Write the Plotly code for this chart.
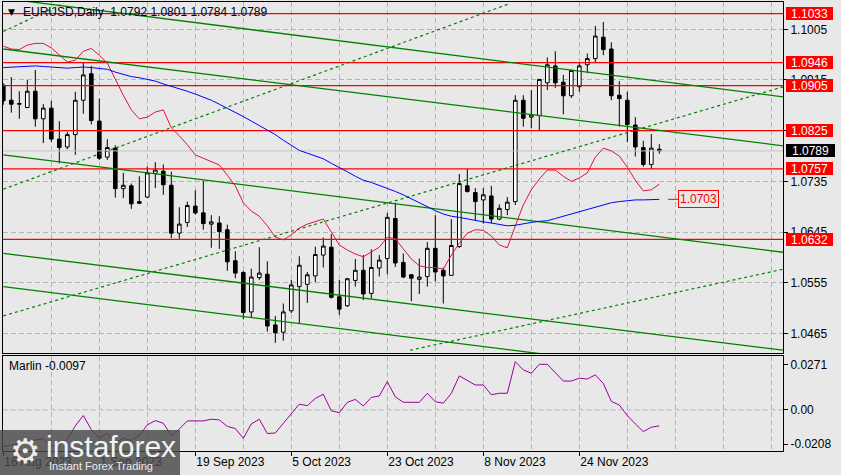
import plotly.graph_objects as go

# ---------------- data ----------------
bars = list(range(83))
opens = [1.0906,1.0879,1.0872,1.0866,1.0895,1.0846,1.0865,1.0810,1.0796,1.0818,
         1.0879,1.0926,1.0842,1.0778,1.0794,1.0722,1.0727,1.0699,1.0707,1.0749,
         1.0753,1.0728,1.0643,1.0662,1.0691,1.0679,1.0659,1.0661,1.0649,1.0594,
         1.0573,1.0503,1.0564,1.0570,1.0480,1.0467,1.0505,1.0548,1.0552,1.0567,
         1.0604,1.0618,1.0530,1.0514,1.0559,1.0577,1.0536,1.0581,1.0598,1.0669,
         1.0591,1.0569,1.0561,1.0566,1.0616,1.0577,1.0568,1.0619,1.0727,1.0715,
         1.0702,1.0709,1.0668,1.0685,1.0699,1.0879,1.0849,1.0852,1.0910,1.0940,
         1.0911,1.0887,1.0903,1.0942,1.0953,1.0991,1.0970,1.0888,1.0879,1.0835,
         1.0795,1.0765,1.0792]
highs = [1.0909,1.0920,1.0895,1.0915,1.0933,1.0872,1.0878,1.0842,1.0823,1.0894,
         1.0946,1.0940,1.0882,1.0810,1.0799,1.0750,1.0731,1.0744,1.0761,1.0769,
         1.0765,1.0752,1.0689,1.0699,1.0719,1.0736,1.0675,1.0673,1.0658,1.0611,
         1.0576,1.0580,1.0618,1.0593,1.0496,1.0518,1.0560,1.0602,1.0574,1.0619,
         1.0635,1.0641,1.0560,1.0563,1.0597,1.0604,1.0614,1.0604,1.0679,1.0697,
         1.0607,1.0570,1.0598,1.0627,1.0675,1.0582,1.0668,1.0748,1.0757,1.0723,
         1.0723,1.0727,1.0694,1.0707,1.0888,1.0888,1.0897,1.0917,1.0955,1.0966,
         1.0924,1.0933,1.0946,1.0962,1.1011,1.1018,1.0982,1.0913,1.0894,1.0849,
         1.0807,1.0819,1.0801]
lows = [1.0871,1.0857,1.0846,1.0865,1.0832,1.0803,1.0805,1.0767,1.0792,1.0782,
        1.0855,1.0836,1.0773,1.0773,1.0706,1.0705,1.0686,1.0695,1.0706,1.0723,
        1.0711,1.0634,1.0633,1.0654,1.0676,1.0649,1.0617,1.0615,1.0576,1.0563,
        1.0490,1.0493,1.0560,1.0468,1.0448,1.0452,1.0501,1.0483,1.0519,1.0556,
        1.0582,1.0527,1.0498,1.0512,1.0548,1.0524,1.0527,1.0566,1.0570,1.0583,
        1.0563,1.0522,1.0535,1.0548,1.0557,1.0518,1.0568,1.0617,1.0715,1.0666,
        1.0660,1.0660,1.0666,1.0675,1.0693,1.0832,1.0829,1.0826,1.0897,1.0901,
        1.0854,1.0883,1.0894,1.0927,1.0945,1.0959,1.0879,1.0832,1.0805,1.0779,
        1.0761,1.0757,1.0784]
closes = [1.0878,1.0872,1.0873,1.0895,1.0846,1.0865,1.0810,1.0795,1.0818,1.0879,
          1.0924,1.0843,1.0776,1.0795,1.0722,1.0728,1.0695,1.0696,1.0750,1.0755,
          1.0729,1.0643,1.0659,1.0692,1.0679,1.0660,1.0663,1.0646,1.0592,1.0572,
          1.0502,1.0565,1.0572,1.0478,1.0466,1.0503,1.0551,1.0586,1.0569,1.0605,
          1.0620,1.0529,1.0508,1.0562,1.0577,1.0535,1.0582,1.0595,1.0671,1.0590,
          1.0565,1.0563,1.0565,1.0616,1.0574,1.0567,1.0621,1.0731,1.0717,1.0699,
          1.0711,1.0668,1.0687,1.0698,1.0879,1.0847,1.0853,1.0916,1.0942,1.0910,
          1.0887,1.0932,1.0940,1.0953,1.0993,1.0969,1.0887,1.0882,1.0836,1.0796,
          1.0765,1.0794,1.0789]
red_ma = [1.0975,1.0970,1.0969,1.0977,1.0980,1.0980,1.0972,1.0959,1.0947,1.0950,
          1.0966,1.0971,1.0959,1.0945,1.0915,1.0888,1.0862,1.0846,1.0849,1.0858,
          1.0862,1.0830,1.0816,1.0800,1.0782,1.0776,1.0771,1.0764,1.0746,1.0727,
          1.0697,1.0682,1.0673,1.0656,1.0636,1.0631,1.0640,1.0652,1.0659,1.0663,
          1.0668,1.0645,1.0622,1.0613,1.0606,1.0601,1.0609,1.0618,1.0636,1.0633,
          1.0615,1.0597,1.0585,1.0582,1.0582,1.0579,1.0604,1.0625,1.0643,1.0649,
          1.0648,1.0638,1.0622,1.0617,1.0656,1.0693,1.0720,1.0739,1.0755,1.0755,
          1.0744,1.0735,1.0741,1.0750,1.0778,1.0794,1.0789,1.0780,1.0760,1.0737,
          1.0718,1.0720,1.0730]
blue_ma = [1.0937,1.0938,1.0938,1.0939,1.0940,1.0939,1.0938,1.0937,1.0936,1.0937,
           1.0938,1.0937,1.0936,1.0934,1.0929,1.0925,1.0921,1.0919,1.0916,1.0913,
           1.0908,1.0904,1.0899,1.0895,1.0890,1.0885,1.0879,1.0872,1.0865,1.0858,
           1.0850,1.0842,1.0834,1.0827,1.0818,1.0808,1.0799,1.0790,1.0785,1.0780,
           1.0775,1.0767,1.0760,1.0752,1.0744,1.0737,1.0733,1.0728,1.0722,1.0717,
           1.0711,1.0704,1.0697,1.0689,1.0683,1.0677,1.0673,1.0671,1.0668,1.0665,
           1.0663,1.0661,1.0658,1.0656,1.0657,1.0660,1.0662,1.0664,1.0665,1.0669,
           1.0673,1.0677,1.0681,1.0685,1.0690,1.0694,1.0697,1.0699,1.0701,1.0702,
           1.0702,1.0703,1.0703]
marlin = [-0.0223,-0.0212,-0.0202,-0.0191,-0.0182,-0.0176,-0.0221,-0.0209,-0.0179,-0.0097,
          -0.0035,-0.0119,-0.0170,-0.0143,-0.0200,-0.0172,-0.0185,-0.0155,-0.0091,-0.0065,
          -0.0081,-0.0155,-0.0116,-0.0067,-0.0067,-0.0067,-0.0057,-0.0061,-0.0100,-0.0113,
          -0.0172,-0.0085,-0.0057,-0.0143,-0.0140,-0.0081,-0.0019,0.0034,0.0025,0.0069,
          0.0094,-0.0006,-0.0017,0.0045,0.0063,0.0023,0.0075,0.0084,0.0170,0.0078,
          0.0046,0.0045,0.0045,0.0100,0.0049,0.0040,0.0099,0.0205,0.0179,0.0150,
          0.0150,0.0091,0.0100,0.0100,0.0291,0.0241,0.0221,0.0275,0.0275,0.0225,
          0.0174,0.0174,0.0191,0.0186,0.0211,0.0159,0.0051,0.0029,-0.0035,-0.0085,
          -0.0132,-0.0105,-0.0097]

# horizontal support / resistance levels
levels = [1.1033, 1.0946, 1.0905, 1.0825, 1.0757, 1.0632]
last_price = 1.0789

# channel lines: (bar0, price0, bar1, price1)
solid_lines = [(0, 1.1060, 97.5, 1.0885),
               (0, 1.0970, 97.5, 1.0798),
               (0, 1.0782, 97.5, 1.0609),
               (0, 1.0607, 97.5, 1.0435),
               (0, 1.0548, 97.5, 1.0375)]
dotted_lines = [(0, 1.1001, 7.5, 1.1051),
                (0, 1.0721, 63.34, 1.1051),
                (0, 1.0496, 97.5, 1.0903),
                (50.84, 1.0435, 97.5, 1.0579)]

price_ticks = [1.1005, 1.0915, 1.0825, 1.0735, 1.0645, 1.0555, 1.0465]
date_ticks = [0, 12, 24, 36, 48, 60, 72]
date_labels = ["16 Aug 2023", "1 Sep 2023", "19 Sep 2023", "5 Oct 2023",
               "23 Oct 2023", "8 Nov 2023", "24 Nov 2023"]
marlin_ticks = [0.0271, 0.0, -0.0208]
marlin_labels = ["0.0271", "0.00", "-0.0208"]

# ---------------- layout helpers ----------------
W, H = 841, 475
BG = "#E8E8E8"
FONT = "Liberation Sans, Arial, sans-serif"
XR = [-0.1, 97.46]
YR = [1.04301, 1.10535]
Y2R = [-0.0247, 0.0327]
def px(x): return x / W
def py(y): return 1 - y / H

gridbars = list(range(0, 97, 6))
GRID = dict(gridcolor="#B4B4B4", griddash="5px,3px", gridwidth=1)

fig = go.Figure()
fig.add_trace(go.Candlestick(
    x=bars, open=opens, high=highs, low=lows, close=closes,
    increasing=dict(line=dict(color="black", width=1), fillcolor="white"),
    decreasing=dict(line=dict(color="black", width=1), fillcolor="black"),
    whiskerwidth=0, xaxis="x", yaxis="y", hoverinfo="skip", showlegend=False))

# current price line
fig.add_trace(go.Scatter(x=XR, y=[last_price]*2, mode="lines",
                         line=dict(color="#C4C4C4", width=1), xaxis="x", yaxis="y"))
for lv in levels:
    fig.add_trace(go.Scatter(x=XR, y=[lv, lv], mode="lines",
                             line=dict(color="#FF0000", width=1.3), xaxis="x", yaxis="y"))
for (b0, p0, b1, p1) in solid_lines:
    fig.add_trace(go.Scatter(x=[b0, b1], y=[p0, p1], mode="lines",
                             line=dict(color="#008000", width=1.3), xaxis="x", yaxis="y"))
for (b0, p0, b1, p1) in dotted_lines:
    fig.add_trace(go.Scatter(x=[b0, b1], y=[p0, p1], mode="lines",
                             line=dict(color="#008000", width=1.2, dash="3px,3px"), xaxis="x", yaxis="y"))
fig.add_trace(go.Scatter(x=bars, y=red_ma, mode="lines",
                         line=dict(color="#E0143C", width=1), xaxis="x", yaxis="y"))
fig.add_trace(go.Scatter(x=bars, y=blue_ma, mode="lines",
                         line=dict(color="#0000FF", width=1), xaxis="x", yaxis="y"))
fig.add_trace(go.Scatter(x=bars, y=marlin, mode="lines",
                         line=dict(color="#990099", width=1), xaxis="x2", yaxis="y2"))

tickfont = dict(family=FONT, size=12, color="black")
fig.update_layout(
    width=W, height=H, margin=dict(l=0, r=0, t=0, b=0),
    paper_bgcolor=BG, plot_bgcolor=BG, showlegend=False, boxgap=0.35,
    hovermode=False,
    xaxis=dict(domain=[px(2.5), px(783)], range=XR, anchor="y",
               tickvals=gridbars, showticklabels=False, ticks="",
               showline=True, linecolor="black", linewidth=1, mirror=True,
               zeroline=False, rangeslider=dict(visible=False), showgrid=True, **GRID),
    yaxis=dict(domain=[py(353), py(2)], range=YR, side="right", anchor="x",
               tickvals=price_ticks, ticktext=[f"{v:.4f}" for v in price_ticks],
               ticks="outside", ticklen=4, tickcolor="black", tickfont=tickfont,
               showline=True, linecolor="black", linewidth=1, mirror=True,
               zeroline=False, showgrid=True, **GRID),
    xaxis2=dict(domain=[px(2.5), px(783)], range=XR, anchor="y2",
                tickvals=date_ticks, ticktext=date_labels, ticks="outside", ticklen=4,
                tickcolor="black", tickfont=tickfont, ticklabelposition="outside right",
                showline=True, linecolor="black", linewidth=1, mirror=True,
                zeroline=False, showgrid=True, **GRID,
                minor=dict(tickvals=gridbars, showgrid=True, ticks="", **GRID)),
    yaxis2=dict(domain=[py(450.7), py(355.7)], range=Y2R, side="right", anchor="x2",
                tickvals=marlin_ticks, ticktext=marlin_labels, ticks="outside", ticklen=4,
                tickcolor="black", tickfont=tickfont,
                showline=True, linecolor="black", linewidth=1, mirror=True,
                zeroline=False, showgrid=False),
)

shapes = [dict(type="line", xref="x2 domain", x0=0, x1=1, yref="y2", y0=0, y1=0,
               line=dict(color="#B4B4B4", width=1, dash="5px,3px"), layer="below")]
# connector of the blue MA value label
shapes.append(dict(type="line", xref="x", yref="y", x0=83.1, x1=84.35,
                   y0=blue_ma[-1], y1=blue_ma[-1], line=dict(color="#FF0000", width=1)))
# logo panel
shapes.append(dict(type="rect", xref="paper", yref="paper", x0=0, x1=px(180),
                   y0=0, y1=py(430), fillcolor="rgba(72,72,72,0.82)", line=dict(width=0),
                   layer="above"))
fig.update_layout(shapes=shapes)

ann = []
for lv in levels:
    ann.append(dict(xref="paper", x=px(786), xanchor="left", yref="y", y=lv, yanchor="middle",
                    text=f"{lv:.4f}", showarrow=False, bgcolor="#FF0000",
                    font=dict(family=FONT, size=12, color="white"),
                    width=47, height=13, borderpad=0, borderwidth=0))
ann.append(dict(xref="paper", x=px(786), xanchor="left", yref="y", y=last_price, yanchor="middle",
                text=f"{last_price:.4f}", showarrow=False, bgcolor="black",
                font=dict(family=FONT, size=12, color="white"),
                width=49, height=13, borderpad=0, borderwidth=0))
ann.append(dict(xref="x", x=84.35, xanchor="left", yref="y", y=blue_ma[-1], yanchor="middle",
                text=f"{blue_ma[-1]:.4f}", showarrow=False, bgcolor=BG,
                bordercolor="#FF0000", borderwidth=1, borderpad=1,
                font=dict(family=FONT, size=12, color="#FF0000")))
title_txt = f"EURUSD,Daily  {opens[-1]:.4f} {highs[-1]:.4f} {lows[-1]:.4f} {closes[-1]:.4f}"
ann.append(dict(xref="paper", x=px(6), xanchor="left", yref="paper", y=py(12.5), yanchor="middle",
                text="▼", showarrow=False, font=dict(family="DejaVu Sans", size=9, color="black")))
ann.append(dict(xref="paper", x=px(21), xanchor="left", yref="paper", y=py(12.5), yanchor="middle",
                text=title_txt, showarrow=False, font=dict(family=FONT, size=12, color="#000020")))
ann.append(dict(xref="paper", x=px(6.5), xanchor="left", yref="paper", y=py(366), yanchor="middle",
                text=f"Marlin {marlin[-1]:.4f}", showarrow=False, font=dict(family=FONT, size=12, color="black")))
# logo text
ann.append(dict(xref="paper", x=px(25), xanchor="center", yref="paper", y=py(451), yanchor="middle",
                text="⚙", showarrow=False, font=dict(family="DejaVu Sans", size=34, color="#EDEDED")))
ann.append(dict(xref="paper", x=px(44), xanchor="left", yref="paper", y=py(446), yanchor="middle",
                text="instaforex", showarrow=False, font=dict(family=FONT, size=30, color="#F2F2F2")))
ann.append(dict(xref="paper", x=px(47), xanchor="left", yref="paper", y=py(466), yanchor="middle",
                text="Instant Forex Trading", showarrow=False, font=dict(family=FONT, size=11, color="#EDEDED")))
fig.update_layout(annotations=ann)

fig.write_html("out.html", config={"displayModeBar": False},
               post_script="document.body.style.margin='0';document.body.style.padding='0';")
